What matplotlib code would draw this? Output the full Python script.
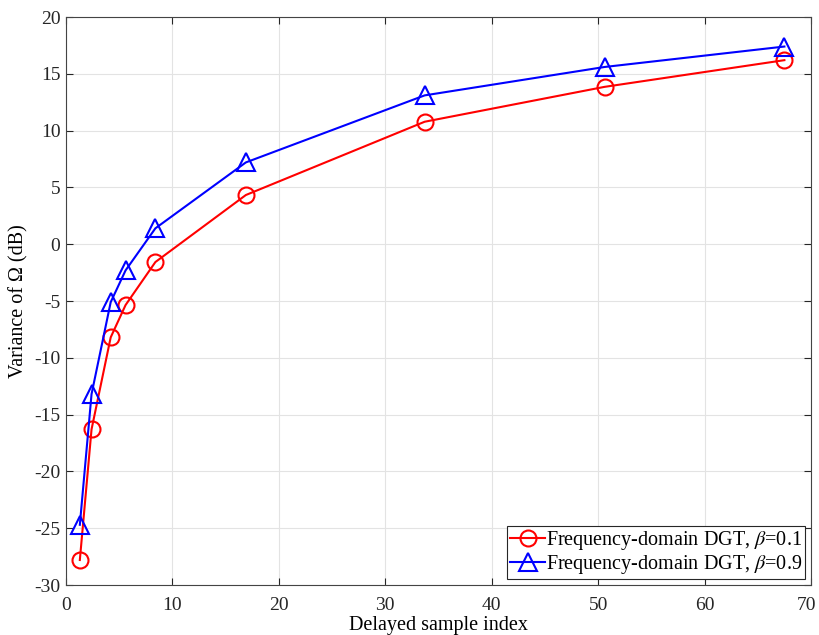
import matplotlib
matplotlib.use("Agg")
import matplotlib.pyplot as plt
import matplotlib.transforms as mtransforms

x = [1.3, 2.4, 4.2, 5.6, 8.4, 16.9, 33.7, 50.6, 67.5]
y_b01 = [-27.8, -16.3, -8.2, -5.35, -1.57, 4.33, 10.78, 13.85, 16.2]
y_b09 = [-24.7, -13.2, -5.1, -2.3, 1.4, 7.2, 13.1, 15.6, 17.4]
labels = [r"Frequency-domain DGT, $\beta$=0.1", r"Frequency-domain DGT, $\beta$=0.9"]

plt.rcParams['font.family'] = ['Liberation Serif', 'DejaVu Serif']
plt.rcParams['mathtext.fontset'] = 'stix'

fig = plt.figure(figsize=(8.19, 6.35), dpi=100)
ax = fig.add_axes([66/819, 50/635, 745/819, 568/635])

ax.plot(x, y_b01, color='red', marker='o', markersize=11.5, markerfacecolor='none',
        markeredgewidth=1.5, linewidth=1.5, label=labels[0])
ax.plot(x, y_b09, color='blue', marker='^', markersize=13, markerfacecolor='none',
        markeredgewidth=1.5, linewidth=1.5, label=labels[1])

ax.set_xlim(0, 70)
ax.set_ylim(-30, 20)
ax.set_xticks(range(0, 71, 10))
ax.set_yticks(range(-30, 21, 5))
ax.set_yticklabels([str(v) for v in range(-30, 21, 5)])
ax.grid(True, color='#e3e3e3', linewidth=0.8)
ax.set_axisbelow(True)
for s in ax.spines.values():
    s.set_color('#444444')
    s.set_linewidth(0.8)
ax.tick_params(direction='in', top=True, right=True, labelsize=14, colors='#262626',
               length=5, width=0.8)
ax.tick_params(axis='x', pad=9)
ax.tick_params(axis='y', pad=4)
ax.set_xlabel('Delayed sample index', fontsize=14.5, labelpad=1)
ax.set_ylabel('Variance of Ω (dB)', fontsize=14.5, labelpad=4)

fig.canvas.draw()
last = ax.get_xticklabels()[-1]
last.set_transform(last.get_transform() + mtransforms.ScaledTranslation(-4/100, 0, fig.dpi_scale_trans))

leg = ax.legend(loc='lower right', fontsize=14.5, fancybox=False, edgecolor='#262626',
                framealpha=1, handlelength=1.7, handletextpad=0.05, borderpad=0.15,
                labelspacing=0.05, borderaxespad=0.3)
leg.get_frame().set_linewidth(0.8)

fig.savefig('out.png', dpi=100)
